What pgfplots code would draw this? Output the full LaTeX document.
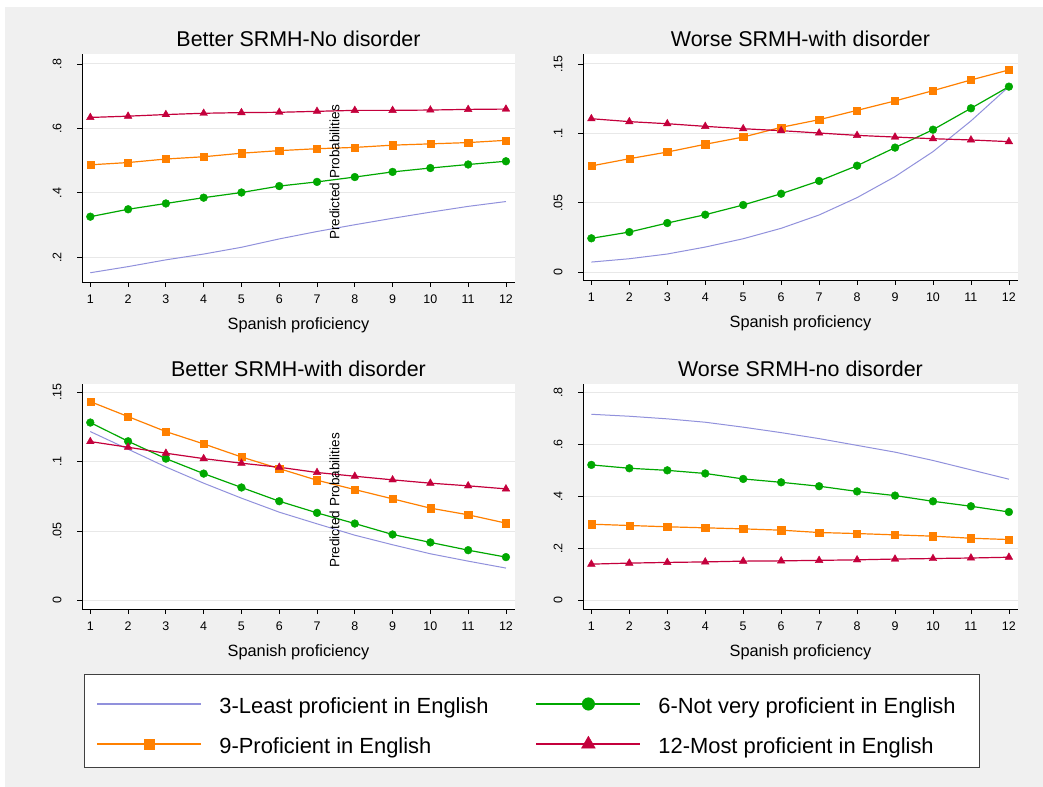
\documentclass[border=0pt]{standalone}
\usepackage{pgfplots}
\pgfplotsset{compat=1.18}
\usepackage{pgfplotstable}
\usepackage{fontspec}
\setmainfont{Liberation Sans}

\definecolor{bggray}{RGB}{240,240,240}
\definecolor{gridgray}{RGB}{232,232,232}
\definecolor{cpurple}{RGB}{145,145,220}
\definecolor{cgreen}{RGB}{0,168,0}
\definecolor{corange}{RGB}{255,128,0}
\definecolor{cred}{RGB}{196,0,60}

% x  purple  green  orange  red
\pgfplotstableread{
x p g o r
1 0.152 0.326 0.487 0.634
2 0.171 0.349 0.494 0.638
3 0.192 0.367 0.505 0.643
4 0.210 0.385 0.512 0.647
5 0.231 0.401 0.523 0.649
6 0.257 0.421 0.531 0.650
7 0.280 0.434 0.537 0.653
8 0.301 0.449 0.541 0.656
9 0.321 0.465 0.548 0.656
10 0.340 0.477 0.552 0.657
11 0.358 0.488 0.556 0.659
12 0.373 0.498 0.563 0.660
}\tabA
\pgfplotstableread{
x p g o r
1 0.0074 0.0245 0.0766 0.1106
2 0.0098 0.0290 0.0818 0.1085
3 0.0132 0.0355 0.0866 0.1070
4 0.0182 0.0415 0.0922 0.1051
5 0.0242 0.0485 0.0974 0.1034
6 0.0317 0.0566 0.1044 0.1020
7 0.0413 0.0658 0.1099 0.1003
8 0.0538 0.0768 0.1166 0.0986
9 0.0689 0.0898 0.1234 0.0974
10 0.0869 0.1027 0.1308 0.0962
11 0.1090 0.1181 0.1385 0.0953
12 0.1337 0.1337 0.1457 0.0941
}\tabB
\pgfplotstableread{
x p g o r
1 0.1217 0.1282 0.1433 0.1145
2 0.1090 0.1147 0.1325 0.1104
3 0.0962 0.1022 0.1217 0.1061
4 0.0845 0.0914 0.1128 0.1022
5 0.0737 0.0814 0.1034 0.0989
6 0.0636 0.0715 0.0950 0.0960
7 0.0552 0.0631 0.0866 0.0922
8 0.0470 0.0554 0.0799 0.0895
9 0.0401 0.0475 0.0732 0.0869
10 0.0336 0.0418 0.0665 0.0845
11 0.0283 0.0362 0.0617 0.0826
12 0.0233 0.0312 0.0557 0.0804
}\tabC
\pgfplotstableread{
x p g o r
1 0.7155 0.521 0.293 0.1395
2 0.708 0.508 0.288 0.1434
3 0.698 0.500 0.283 0.146
4 0.685 0.488 0.279 0.148
5 0.666 0.467 0.275 0.151
6 0.645 0.454 0.270 0.152
7 0.622 0.439 0.261 0.154
8 0.596 0.419 0.257 0.156
9 0.570 0.403 0.252 0.159
10 0.538 0.381 0.247 0.161
11 0.502 0.362 0.239 0.163
12 0.466 0.340 0.234 0.166
}\tabD

\pgfplotsset{
  panel/.style={
    scale only axis,
    axis x line*=bottom, axis y line*=left,
    axis line style={black, line width=0.8bp, -},
    axis background/.style={fill=white},
    tick align=outside,
    major tick length=5bp,
    tick style={black, line width=0.8bp},
    xmin=0.78, xmax=12.24,
    xtick={1,2,3,4,5,6,7,8,9,10,11,12},
    xticklabels={1,2,3,4,5,6,7,8,9,10,11,12},
    ymajorgrids,
    grid style={color=gridgray, line width=1bp},
    yticklabel style={rotate=90, anchor=south, font=\fontsize{12.5}{13}\selectfont},
    xticklabel style={font=\fontsize{12.5}{13}\selectfont},
    yticklabel shift=12bp,
    xticklabel shift=4bp,
    xlabel={Spanish proficiency},
    xlabel style={at={(axis description cs:0.5,0)}, anchor=base, yshift=-47.5bp, font=\fontsize{16.4}{17}\selectfont},
    title style={at={(axis description cs:0.5,1)}, anchor=base, yshift=2bp, font=\fontsize{21.5}{22}\selectfont},
    legend image code/.code={\draw[mark repeat=2,mark phase=2,##1] plot coordinates {(0bp,-3bp) (52bp,-3bp) (104bp,-3bp)};},
  },
  spur/.style={color=cpurple, line width=1bp, no marks, legend image post style={line width=2bp}},
  sgre/.style={color=cgreen, line width=1.2bp, mark=*, mark size=3.9bp, mark options={solid, fill=cgreen, line width=0.4bp},
    legend image post style={line width=2bp, mark size=6.3bp}},
  sora/.style={color=corange, line width=1.2bp, mark=square*, mark size=3.6bp, mark options={solid, fill=corange, line width=0.4bp},
    legend image post style={line width=2bp, mark size=5.2bp}},
  sred/.style={color=cred, line width=1.2bp, mark=triangle*, mark size=4.4bp, mark options={solid, fill=cred, line width=0.4bp},
    legend image post style={line width=2bp, mark size=8bp}},
}

\newcommand{\LE}[2]{\makebox[#1][l]{\rule[-5bp]{0pt}{31.7bp}#2}}

\begin{document}
\begin{tikzpicture}[x=1bp,y=1bp]
\fill[white] (0,0) rectangle (1043,787);
\fill[bggray] (5,0) rectangle (1043,780);

% Panel 1
\begin{axis}[panel, at={(82bp,505bp)}, anchor=south west, width=433bp, height=228bp,
  ymin=0.1233, ymax=0.831, ytick={0.2,0.4,0.6,0.8}, yticklabels={.2,.4,.6,.8},
  title={Better SRMH-No disorder}]
\addplot[spur] table[x=x,y=p]{\tabA};
\addplot[sgre] table[x=x,y=g]{\tabA};
\addplot[sora] table[x=x,y=o]{\tabA};
\addplot[sred] table[x=x,y=r]{\tabA};
\end{axis}

% Panel 2
\begin{axis}[panel, at={(583bp,507bp)}, anchor=south west, width=435bp, height=226bp,
  ymin=-0.0055, ymax=0.1572, ytick={0,0.05,0.1,0.15}, yticklabels={0,.05,.1,.15},
  title={Worse SRMH-with disorder}]
\addplot[spur] table[x=x,y=p]{\tabB};
\addplot[sgre] table[x=x,y=g]{\tabB};
\addplot[sora] table[x=x,y=o]{\tabB};
\addplot[sred] table[x=x,y=r]{\tabB};
\end{axis}

% Panel 3 (carries the legend)
\begin{axis}[panel, at={(82bp,178bp)}, anchor=south west, width=433bp, height=225bp,
  ymin=-0.0062, ymax=0.156, ytick={0,0.05,0.1,0.15}, yticklabels={0,.05,.1,.15},
  title={Better SRMH-with disorder},
  legend columns=2,
  legend cell align=left,
  legend style={at={(axis description cs:0.0046,-0.2889)}, anchor=north west,
    draw=black!75, line width=0.8bp, fill=white,
    inner xsep=12bp, inner ysep=12.5bp,
    column sep=17bp, row sep=12bp,
    font=\fontsize{22}{22}\selectfont,
    nodes={inner sep=0bp}},
  ]
\addplot[spur] table[x=x,y=p]{\tabC};
\addlegendentry{\LE{299bp}{3-Least proficient in English}}
\addplot[sgre] table[x=x,y=g]{\tabC};
\addlegendentry{\LE{309bp}{6-Not very proficient in English}}
\addplot[sora] table[x=x,y=o]{\tabC};
\addlegendentry{\LE{299bp}{9-Proficient in English}}
\addplot[sred] table[x=x,y=r]{\tabC};
\addlegendentry{\LE{309bp}{12-Most proficient in English}}
\end{axis}

% Panel 4
\begin{axis}[panel, at={(583bp,178bp)}, anchor=south west, width=435bp, height=225bp,
  ymin=-0.033, ymax=0.832, ytick={0,0.2,0.4,0.6,0.8}, yticklabels={0,.2,.4,.6,.8},
  title={Worse SRMH-no disorder}]
\addplot[spur] table[x=x,y=p]{\tabD};
\addplot[sgre] table[x=x,y=g]{\tabD};
\addplot[sora] table[x=x,y=o]{\tabD};
\addplot[sred] table[x=x,y=r]{\tabD};
\end{axis}

% overlapping y-axis titles (as in the original combined graph)
\node[rotate=90, font=\fontsize{13.6}{14}\selectfont, inner sep=0pt] at (334.5,614.5) {Predicted Probabilities};
\node[rotate=90, font=\fontsize{13.6}{14}\selectfont, inner sep=0pt] at (334.5,286.5) {Predicted Probabilities};
\end{tikzpicture}
\end{document}
